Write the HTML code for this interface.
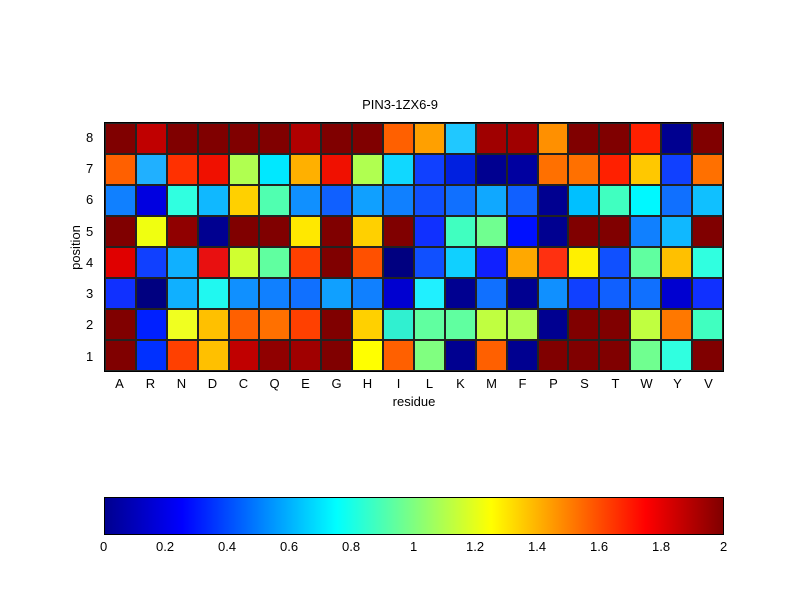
<!DOCTYPE html>
<html><head><style>
body{margin:0;background:#fff;width:800px;height:600px;position:relative;font-family:"Liberation Sans",sans-serif;font-size:13px;color:#000;overflow:hidden}
#g{position:absolute;left:104px;top:122px;width:620px;height:250px;display:grid;grid-template-columns:repeat(20,1fr);grid-template-rows:repeat(8,1fr);border:1px solid #000;box-sizing:border-box}
#g div{border:0.5px solid #222}
.t{position:absolute;white-space:nowrap}
#cb{position:absolute;left:104px;top:497px;width:620px;height:38px;border:1px solid #000;box-sizing:border-box;background:linear-gradient(to right,#00008f 0%,#0000ff 12.5%,#00ffff 37.5%,#ffff00 62.5%,#ff0000 87.5%,#800000 100%)}
</style></head><body>
<div class="t" style="left:0;width:800px;text-align:center;top:97px">PIN3-1ZX6-9</div>
<div id="g">
<div style="background:#800000"></div><div style="background:#c00000"></div><div style="background:#800000"></div><div style="background:#800000"></div><div style="background:#800000"></div><div style="background:#800000"></div><div style="background:#b00000"></div><div style="background:#800000"></div><div style="background:#800000"></div><div style="background:#ff6000"></div><div style="background:#ffa000"></div><div style="background:#20c8ff"></div><div style="background:#a00000"></div><div style="background:#a00000"></div><div style="background:#ff9000"></div><div style="background:#800000"></div><div style="background:#800000"></div><div style="background:#ff2000"></div><div style="background:#000090"></div><div style="background:#800000"></div>
<div style="background:#ff6000"></div><div style="background:#20b0ff"></div><div style="background:#ff3000"></div><div style="background:#f01000"></div><div style="background:#b0ff50"></div><div style="background:#00e8ff"></div><div style="background:#ffb000"></div><div style="background:#f01000"></div><div style="background:#b0ff50"></div><div style="background:#10d8ff"></div><div style="background:#1040ff"></div><div style="background:#0020e0"></div><div style="background:#000090"></div><div style="background:#0000a0"></div><div style="background:#ff7000"></div><div style="background:#ff7000"></div><div style="background:#ff2000"></div><div style="background:#ffc800"></div><div style="background:#1040ff"></div><div style="background:#ff7000"></div>
<div style="background:#1080ff"></div><div style="background:#0000e0"></div><div style="background:#30ffe0"></div><div style="background:#10b8ff"></div><div style="background:#ffd000"></div><div style="background:#50ffb0"></div><div style="background:#1090ff"></div><div style="background:#1060ff"></div><div style="background:#10a0ff"></div><div style="background:#1080ff"></div><div style="background:#1050ff"></div><div style="background:#1070ff"></div><div style="background:#10a8ff"></div><div style="background:#1060ff"></div><div style="background:#000090"></div><div style="background:#00c0ff"></div><div style="background:#40ffc0"></div><div style="background:#00f8ff"></div><div style="background:#1070ff"></div><div style="background:#10c0ff"></div>
<div style="background:#800000"></div><div style="background:#f0ff10"></div><div style="background:#900000"></div><div style="background:#000090"></div><div style="background:#800000"></div><div style="background:#800000"></div><div style="background:#ffe800"></div><div style="background:#800000"></div><div style="background:#ffd000"></div><div style="background:#800000"></div><div style="background:#1030ff"></div><div style="background:#40ffc0"></div><div style="background:#70ff90"></div><div style="background:#0010ff"></div><div style="background:#000090"></div><div style="background:#800000"></div><div style="background:#800000"></div><div style="background:#1080ff"></div><div style="background:#10b8ff"></div><div style="background:#800000"></div>
<div style="background:#e00000"></div><div style="background:#1040ff"></div><div style="background:#10b0ff"></div><div style="background:#e81010"></div><div style="background:#d0ff30"></div><div style="background:#60ffa0"></div><div style="background:#ff4000"></div><div style="background:#800000"></div><div style="background:#ff5000"></div><div style="background:#000080"></div><div style="background:#1050ff"></div><div style="background:#10d0ff"></div><div style="background:#1020ff"></div><div style="background:#ffa800"></div><div style="background:#ff3010"></div><div style="background:#fff000"></div><div style="background:#1050ff"></div><div style="background:#60ffa0"></div><div style="background:#ffc000"></div><div style="background:#30ffe0"></div>
<div style="background:#1030ff"></div><div style="background:#000080"></div><div style="background:#10b0ff"></div><div style="background:#20f8f0"></div><div style="background:#1090ff"></div><div style="background:#1080ff"></div><div style="background:#1070ff"></div><div style="background:#10a0ff"></div><div style="background:#1080ff"></div><div style="background:#0000d0"></div><div style="background:#20f0ff"></div><div style="background:#000090"></div><div style="background:#1070ff"></div><div style="background:#000090"></div><div style="background:#1090ff"></div><div style="background:#1040ff"></div><div style="background:#1060ff"></div><div style="background:#1070ff"></div><div style="background:#0000d0"></div><div style="background:#1030ff"></div>
<div style="background:#800000"></div><div style="background:#0020ff"></div><div style="background:#f0ff20"></div><div style="background:#ffc000"></div><div style="background:#ff6000"></div><div style="background:#ff7000"></div><div style="background:#ff4000"></div><div style="background:#800000"></div><div style="background:#ffd000"></div><div style="background:#30f0d0"></div><div style="background:#60ffa0"></div><div style="background:#60ffa0"></div><div style="background:#c0ff40"></div><div style="background:#b0ff50"></div><div style="background:#000090"></div><div style="background:#800000"></div><div style="background:#800000"></div><div style="background:#c0ff40"></div><div style="background:#ff7800"></div><div style="background:#40ffc0"></div>
<div style="background:#800000"></div><div style="background:#0030ff"></div><div style="background:#ff4000"></div><div style="background:#ffc000"></div><div style="background:#c00000"></div><div style="background:#900000"></div><div style="background:#a00000"></div><div style="background:#800000"></div><div style="background:#ffff00"></div><div style="background:#ff6000"></div><div style="background:#80ff80"></div><div style="background:#000090"></div><div style="background:#ff6000"></div><div style="background:#000090"></div><div style="background:#800000"></div><div style="background:#800000"></div><div style="background:#800000"></div><div style="background:#70ff90"></div><div style="background:#30ffe0"></div><div style="background:#800000"></div>
</div>
<div class="t" style="left:86px;top:130px">8</div><div class="t" style="left:86px;top:161px">7</div><div class="t" style="left:86px;top:192px">6</div><div class="t" style="left:86px;top:224px">5</div><div class="t" style="left:86px;top:255px">4</div><div class="t" style="left:86px;top:286px">3</div><div class="t" style="left:86px;top:317px">2</div><div class="t" style="left:86px;top:349px">1</div>
<div class="t" style="left:53px;top:240px;transform:rotate(-90deg)">position</div>
<div style="position:absolute;left:104px;top:376px;width:620px;display:flex;font-size:13px">
<span style="flex:1;text-align:center">A</span><span style="flex:1;text-align:center">R</span><span style="flex:1;text-align:center">N</span><span style="flex:1;text-align:center">D</span><span style="flex:1;text-align:center">C</span><span style="flex:1;text-align:center">Q</span><span style="flex:1;text-align:center">E</span><span style="flex:1;text-align:center">G</span><span style="flex:1;text-align:center">H</span><span style="flex:1;text-align:center">I</span><span style="flex:1;text-align:center">L</span><span style="flex:1;text-align:center">K</span><span style="flex:1;text-align:center">M</span><span style="flex:1;text-align:center">F</span><span style="flex:1;text-align:center">P</span><span style="flex:1;text-align:center">S</span><span style="flex:1;text-align:center">T</span><span style="flex:1;text-align:center">W</span><span style="flex:1;text-align:center">Y</span><span style="flex:1;text-align:center">V</span></div>
<div class="t" style="left:0;width:828px;text-align:center;top:394px">residue</div>
<div id="cb"></div>
<div class="t" style="left:100px;top:539px">0</div><div class="t" style="left:156px;top:539px">0.2</div><div class="t" style="left:218px;top:539px">0.4</div><div class="t" style="left:280px;top:539px">0.6</div><div class="t" style="left:342px;top:539px">0.8</div><div class="t" style="left:410px;top:539px">1</div><div class="t" style="left:466px;top:539px">1.2</div><div class="t" style="left:528px;top:539px">1.4</div><div class="t" style="left:590px;top:539px">1.6</div><div class="t" style="left:652px;top:539px">1.8</div><div class="t" style="left:720px;top:539px">2</div>
</body></html>
